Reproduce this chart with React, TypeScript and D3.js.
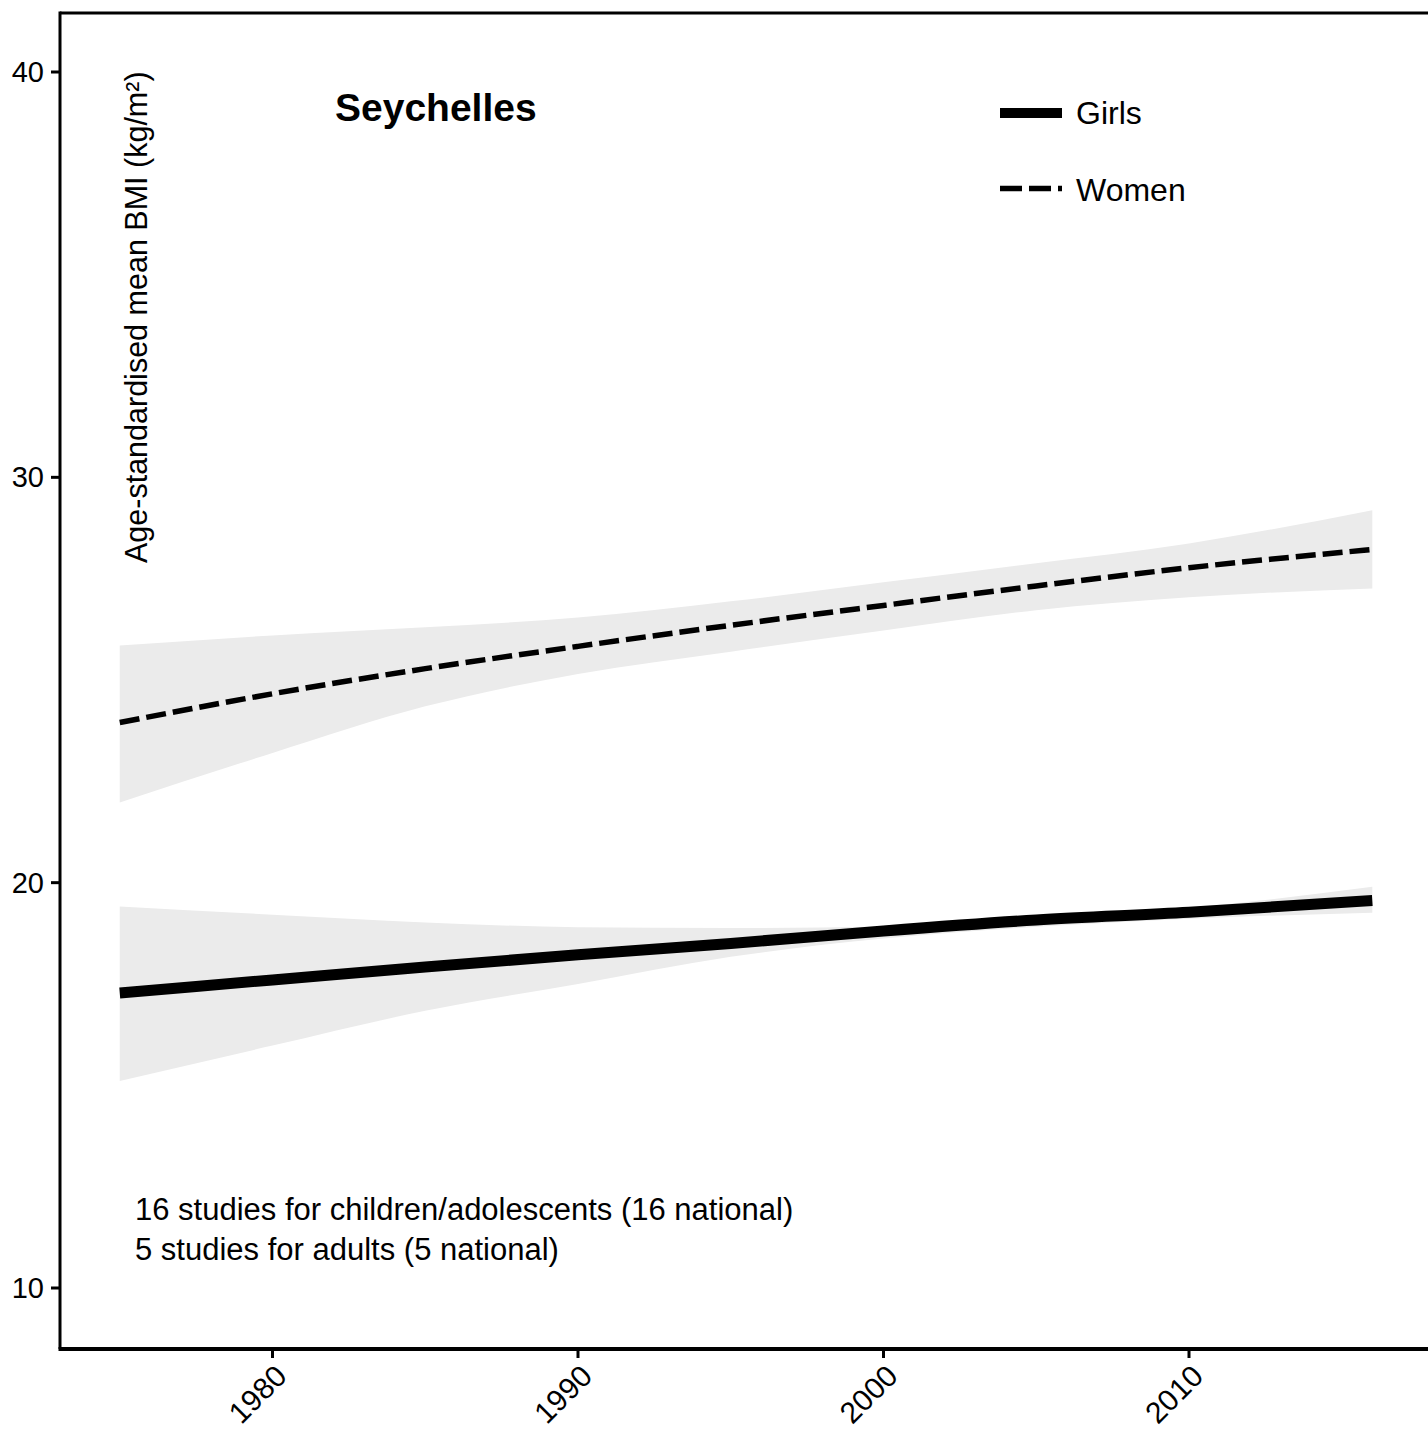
import React from "react";
import * as d3 from "d3";

const years = [1975, 1980, 1985, 1990, 1995, 2000, 2005, 2010, 2016];
const girlsMean = [17.28, 17.6, 17.92, 18.22, 18.5, 18.81, 19.08, 19.27, 19.56];
const girlsUpper = [19.41, 19.21, 19.02, 18.9, 18.88, 18.92, 19.14, 19.38, 19.9];
const girlsLower = [15.11, 15.98, 16.84, 17.5, 18.17, 18.62, 18.91, 19.11, 19.26];
const womenMean = [23.95, 24.66, 25.28, 25.83, 26.35, 26.84, 27.32, 27.77, 28.22];
const womenUpper = [25.85, 26.1, 26.3, 26.54, 26.94, 27.41, 27.88, 28.37, 29.19];
const womenLower = [21.98, 23.2, 24.35, 25.15, 25.7, 26.22, 26.72, 27.04, 27.26];
const xTicks = [1980, 1990, 2000, 2010];
const yTicks = [10, 20, 30, 40];
const countryTitle = "Seychelles";
const legendLabels = ["Girls", "Women"];
const yLabel = "Age-standardised mean BMI (kg/m²)";
const notes = [
  "16 studies for children/adolescents (16 national)",
  "5 studies for adults (5 national)",
];

const W = 1428;
const H = 1448;
const FONT = "'Liberation Sans', Arial, Helvetica, sans-serif";
const BAND = "#EBEBEB";

export default function App() {
  const x = d3.scaleLinear().domain([1980, 2010]).range([272.5, 1189]);
  const y = d3.scaleLinear().domain([10, 40]).range([1288, 72]);

  const area = (lo: number[], hi: number[]) =>
    d3
      .area<number>()
      .x((_, i) => x(years[i]))
      .y0((_, i) => y(lo[i]))
      .y1((_, i) => y(hi[i]))
      .curve(d3.curveMonotoneX)(years) || "";

  const line = (v: number[]) =>
    d3
      .line<number>()
      .x((_, i) => x(years[i]))
      .y((_, i) => y(v[i]))
      .curve(d3.curveMonotoneX)(years) || "";

  const left = 60;
  const top = 13;
  const bottom = 1349;

  return (
    <svg
      width={W}
      height={H}
      style={{ position: "absolute", left: 0, top: 0, background: "#fff" }}
      fontFamily={FONT}
    >
      <rect x={0} y={0} width={W} height={H} fill="#fff" />
      {/* bands */}
      <path d={area(womenLower, womenUpper)} fill={BAND} />
      <path d={area(girlsLower, girlsUpper)} fill={BAND} />
      {/* lines */}
      <path d={line(womenMean)} fill="none" stroke="#000" strokeWidth={5.5} strokeDasharray="20 7" />
      <path d={line(girlsMean)} fill="none" stroke="#000" strokeWidth={11} />

      {/* axes */}
      <line x1={left} x2={W} y1={top} y2={top} stroke="#000" strokeWidth={3} />
      <line x1={left} x2={left} y1={top - 1.5} y2={bottom} stroke="#000" strokeWidth={3} />
      <line x1={left - 1.5} x2={W} y1={bottom} y2={bottom} stroke="#000" strokeWidth={4} />

      {yTicks.map((t) => (
        <g key={"y" + t}>
          <line x1={left - 9} x2={left} y1={y(t)} y2={y(t)} stroke="#000" strokeWidth={3} />
          <text x={left - 16} y={y(t)} dy="0.35em" textAnchor="end" fontSize={29}>
            {t}
          </text>
        </g>
      ))}
      {xTicks.map((t) => (
        <g key={"x" + t}>
          <line x1={x(t)} x2={x(t)} y1={bottom} y2={bottom + 9} stroke="#000" strokeWidth={3} />
          <text
            transform={`translate(${x(t) + 16},${bottom + 29}) rotate(-45)`}
            textAnchor="end"
            fontSize={30}
          >
            {t}
          </text>
        </g>
      ))}

      {/* y label */}
      <text
        transform={`translate(147,${563}) rotate(-90)`}
        textAnchor="start"
        fontSize={30.5}
      >
        {yLabel}
      </text>

      {/* title */}
      <text x={335} y={121} fontSize={39} fontWeight="bold">
        {countryTitle}
      </text>

      {/* legend */}
      <line x1={1000} x2={1062} y1={113} y2={113} stroke="#000" strokeWidth={10} />
      <text x={1076} y={124} fontSize={32}>
        {legendLabels[0]}
      </text>
      <line x1={1000} x2={1062} y1={188.5} y2={188.5} stroke="#000" strokeWidth={5.5} strokeDasharray="22 7" />
      <text x={1076} y={201} fontSize={32}>
        {legendLabels[1]}
      </text>

      {/* notes */}
      {notes.map((n, i) => (
        <text key={n} x={135} y={1220 + i * 40} fontSize={31}>
          {n}
        </text>
      ))}
    </svg>
  );
}
